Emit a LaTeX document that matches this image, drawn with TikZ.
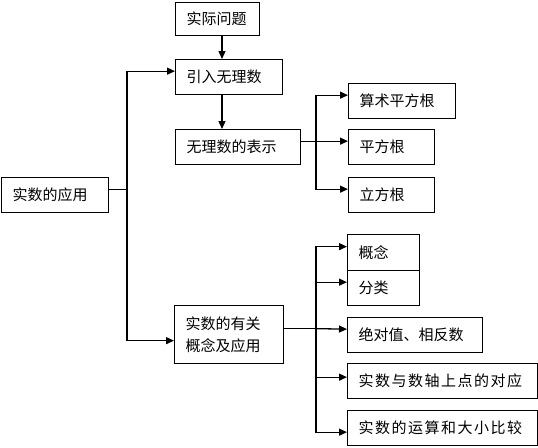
\documentclass[tikz,border=0pt]{standalone}
\usepackage{fontspec}
\newfontfamily\cjk{Noto Sans CJK SC}
\newfontfamily\cjkespace[LetterSpace=10]{Noto Sans CJK SC}
\usepackage{tikz}
\usetikzlibrary{arrows.meta,positioning}
\definecolor{trait}{RGB}{0,0,0}

\begin{document}
\begin{tikzpicture}[x=1pt, y=-1pt, font=\cjk\fontsize{15}{22}\selectfont,
		boite/.style={draw=trait, line width=1.3pt, anchor=north west, inner xsep=11pt, inner ysep=0pt, align=left, minimum height=35pt},
		fleche/.style={-{Triangle[length=8pt,width=7pt]}, line width=1.3pt, trait},
		ligne/.style={line width=1.3pt, trait}]
	\useasboundingbox (0,0) rectangle (538,447);
	
	% Colonne centrale
	\node[boite, text width=62pt, minimum height=33pt] (pb) at (175,2) {实际问题};
	\node[boite, text width=85pt] (intro) at (175,59) {引入无理数};
	\node[boite, text width=103pt] (repr) at (175,129) {无理数的表示};
	\node[boite, text width=85pt] (app) at (1,177) {实数的应用};
	\node[boite, text width=87pt, minimum height=58pt] (notion) at (174,305) {实数的有关\\概念及应用};
	
	% Racines
	\node[boite, text width=85pt] (arith) at (348,83) {算术平方根};
	\node[boite, text width=64pt] (carre) at (348,129) {平方根};
	\node[boite, text width=64pt] (cube) at (348,177) {立方根};
	
	% Notions
	\node[boite, text width=50pt, minimum height=36pt] (concept) at (347,234) {概念};
	\node[boite, text width=50pt] (classe) at (347,270) {分类};
	\node[boite, text width=113pt] (absolu) at (347,317) {绝对值、相反数};
	\node[boite, text width=168pt, font=\cjkespace\fontsize{15}{22}\selectfont] (axe) at (347,363) {实数与数轴上点的对应};
	\node[boite, text width=168pt, font=\cjkespace\fontsize{15}{22}\selectfont] (calcul) at (347,410) {实数的运算和大小比较};
	
	\coordinate (milieu) at (222,0);
	\coordinate (gauche) at (127,0);
	\coordinate (droite) at (316,0);
	
	% Fleches verticales
	\draw[fleche] (pb.south -| milieu) -- (intro.north -| milieu);
	\draw[fleche] (intro.south -| milieu) -- (repr.north -| milieu);
	
	% Tronc gauche
	\draw[ligne] ([yshift=6pt]app.east) -- ([yshift=6pt]app.east -| gauche);
	\draw[fleche] ([yshift=6pt]app.east -| gauche) |- ([yshift=6pt]intro.west);
	\draw[fleche] ([yshift=6pt]app.east -| gauche) |- ([yshift=-6pt]notion.west);
	
	% Branches des racines
	\draw[ligne] ([yshift=6pt]repr.east) -- ([yshift=6pt]repr.east -| droite);
	\draw[fleche] ([yshift=6pt]repr.east -| droite) |- ([yshift=6pt]arith.west);
	\draw[fleche] ([yshift=6pt]repr.east -| droite) -- ([yshift=6pt]carre.west);
	\draw[fleche] ([yshift=6pt]repr.east -| droite) |- ([yshift=6pt]cube.west);
	
	% Branches des notions
	\draw[ligne] ([yshift=6pt]notion.east) -- ([yshift=6pt]notion.east -| droite);
	\draw[fleche] ([yshift=6pt]notion.east -| droite) |- ([yshift=6pt]concept.west);
	\draw[fleche] ([yshift=6pt]notion.east -| droite) |- ([yshift=6pt]classe.west);
	\draw[fleche] ([yshift=6pt]notion.east -| droite) -- ([yshift=6pt]absolu.west);
	\draw[fleche] ([yshift=6pt]notion.east -| droite) |- ([yshift=4pt]axe.west);
	\draw[fleche] ([yshift=6pt]notion.east -| droite) |- ([yshift=-4pt]calcul.west);
\end{tikzpicture}
\end{document}
